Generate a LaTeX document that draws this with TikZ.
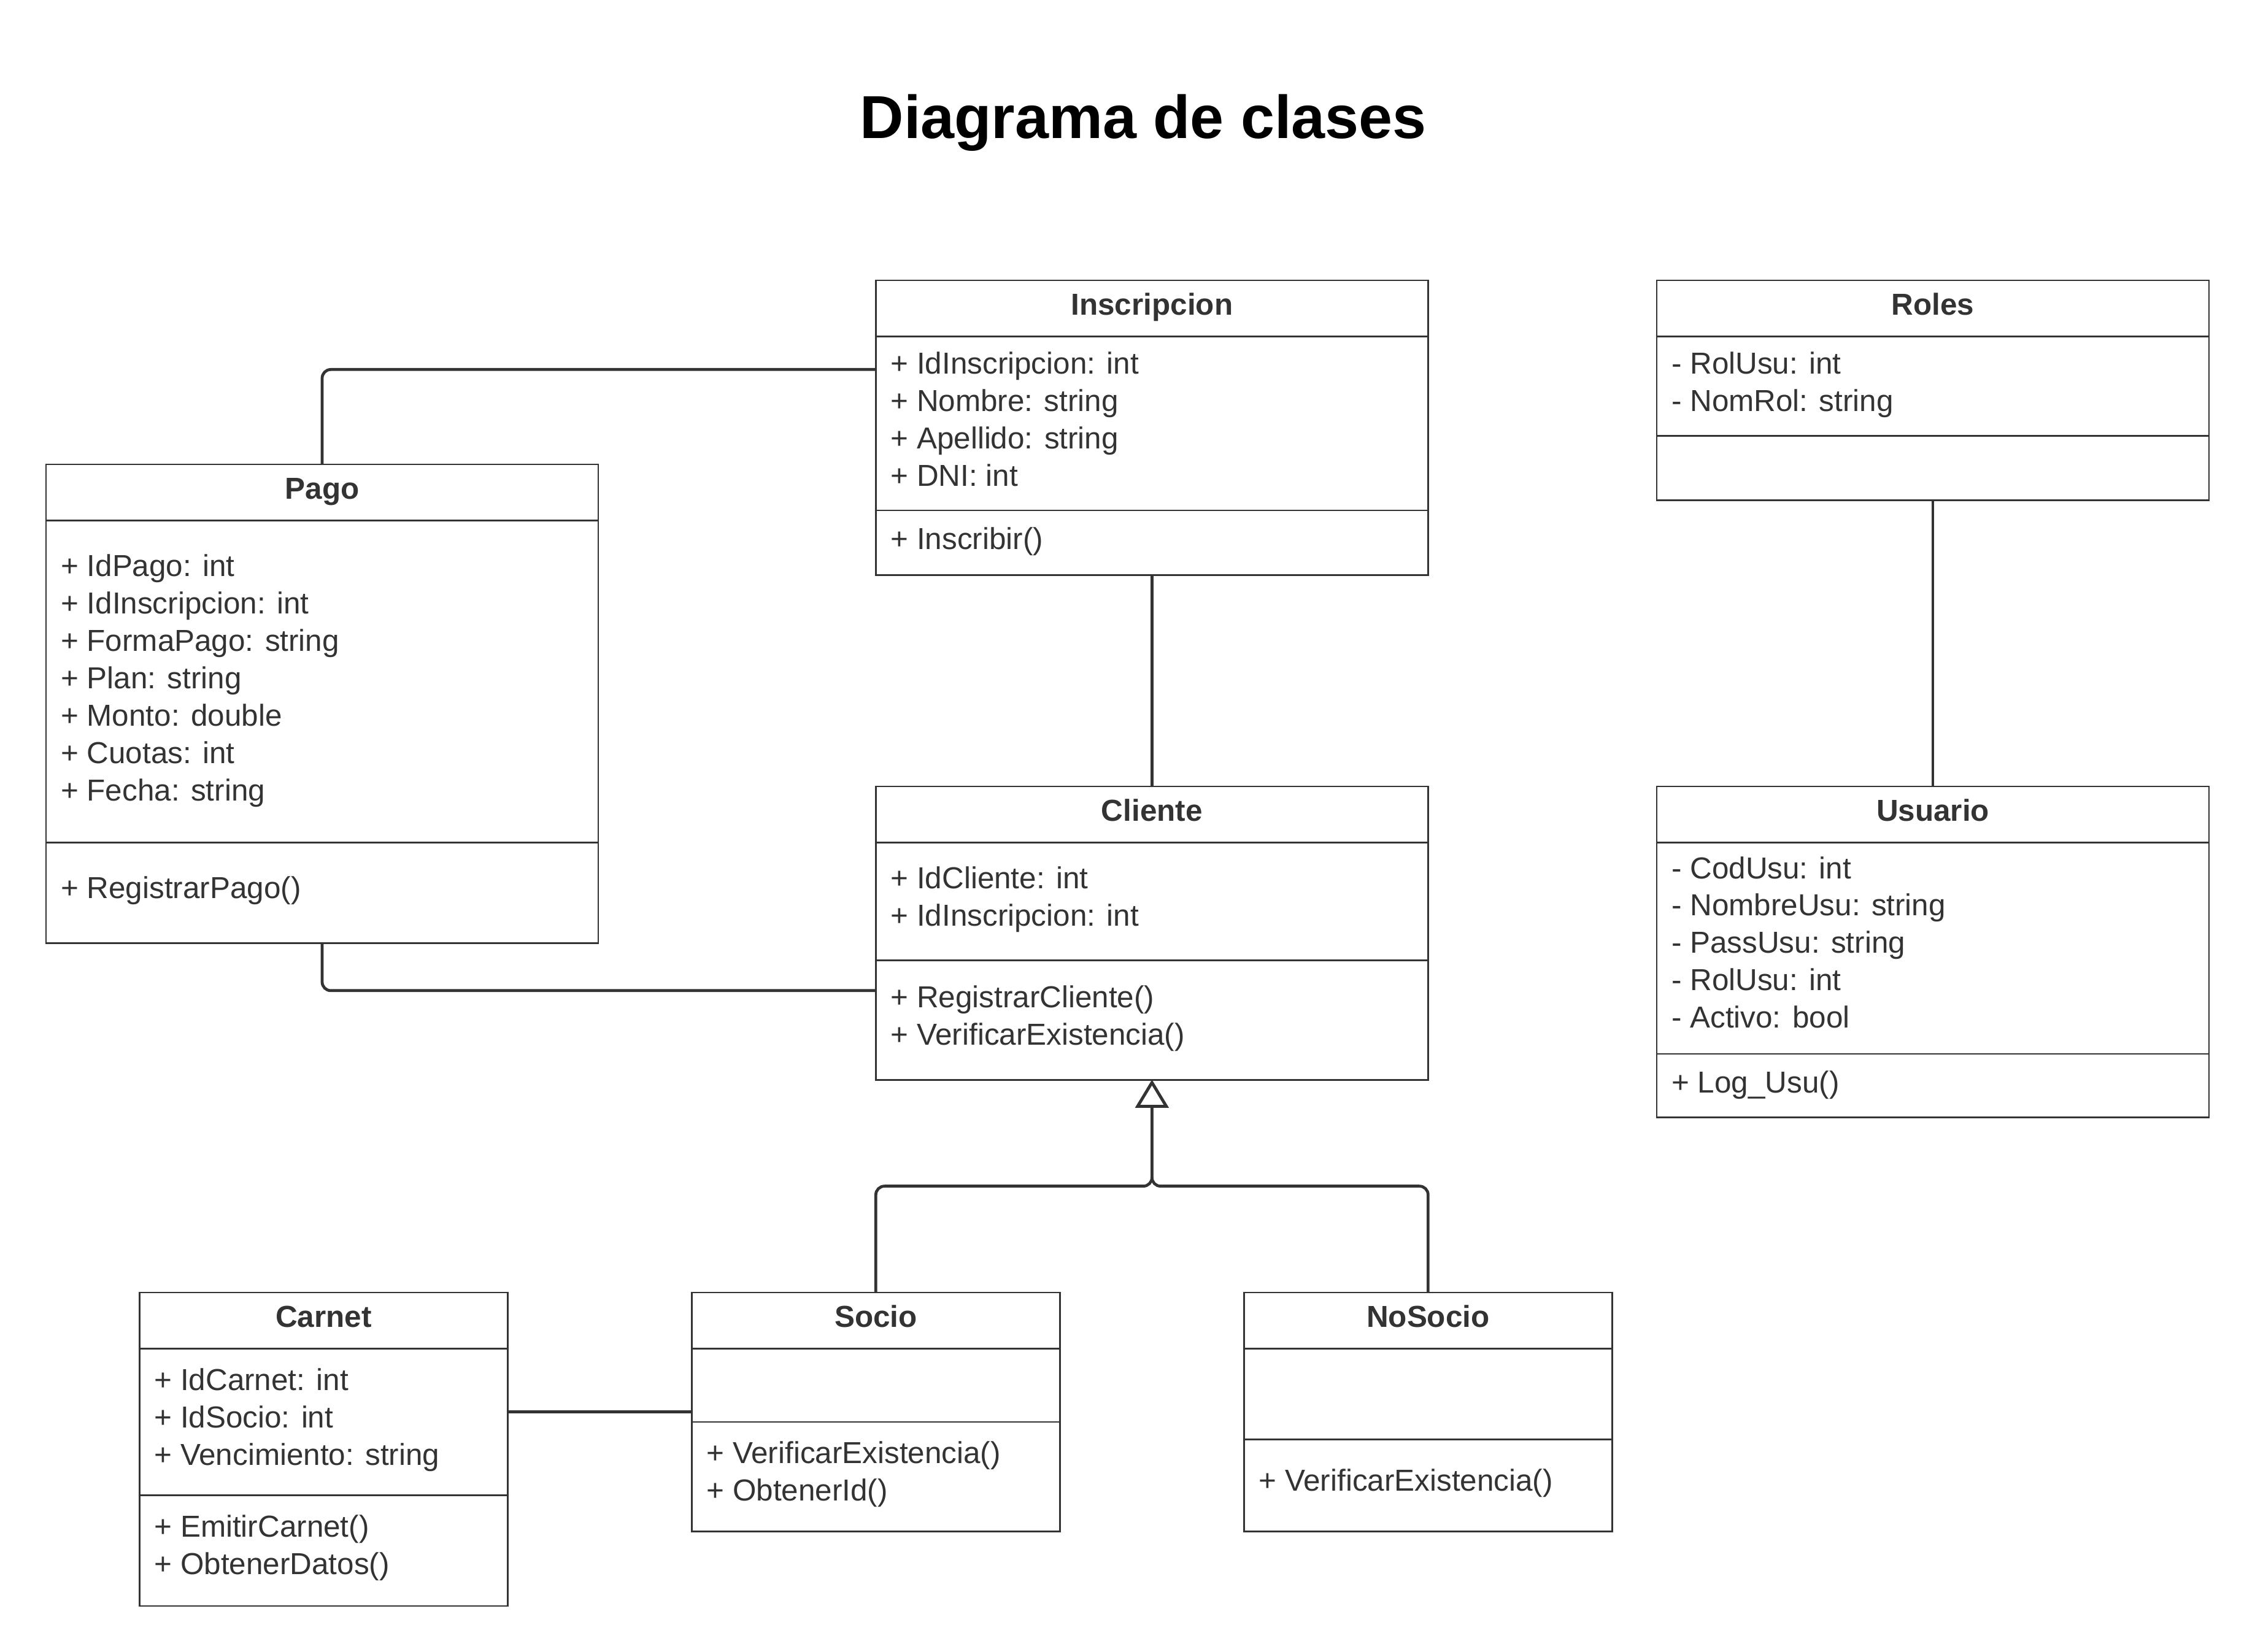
\documentclass[tikz,border=0pt]{standalone}
\usepackage{fontspec}
\setmainfont{Liberation Sans}
\usetikzlibrary{arrows.meta}
\definecolor{ink}{HTML}{333333}

\tikzset{
  x=0.02cm, y=-0.02cm,
  classbox/.style={draw=ink, line width=0.7pt, fill=white, inner sep=0pt, outer sep=0pt},
  classtitle/.style={anchor=base, inner sep=0pt, text=ink, font=\fontsize{12}{14}\selectfont\bfseries},
  member/.style={anchor=base west, inner sep=0pt, text=ink, font=\fontsize{12}{14}\selectfont},
  divider/.style={draw=ink, line width=0.7pt},
  conn/.style={draw=ink, line width=1.15pt, rounded corners=0.12cm},
  genarrow/.style={conn, -{Triangle[length=0.39cm, width=0.46cm, fill=white]}},
}

% \umlclass{name}{x1}{y1}{x2}{y2}{title}
\newcommand{\umlclass}[6]{%
  \node[classbox, minimum width={(#4-#2)*0.02cm}, minimum height={(#5-#3)*0.02cm}]
    (#1) at ({(#2+#4)/2},{(#3+#5)/2}) {};
  \node[classtitle] (#1-title) at ({(#2+#4)/2},{#3+24}) {#6};
}
% \umldivider{name}{y}
\newcommand{\umldivider}[2]{%
  \draw[divider] (#1.west |- 0,#2) -- (#1.east |- 0,#2);
}
% \umlmembers{name}{tag}{x}{first baseline}{list}
\newcommand{\umlmembers}[5]{%
  \foreach \t [count=\i] in {#5}
    \node[member] (#1-#2\i) at (#3,{#4+26*(\i-1)}) {\t};
}

\begin{document}
\begin{tikzpicture}
\useasboundingbox (0,0) rectangle (1568,1149);
\fill[white] (0,0) rectangle (1568,1149);

\node[anchor=base, inner sep=0pt, font=\fontsize{24}{28}\selectfont\bfseries] (heading) at (795,96) {Diagrama de clases};

% Inscripcion
\umlclass{ins}{609}{195}{993}{400}{Inscripcion}
\umldivider{ins}{234}
\umldivider{ins}{355}
\umlmembers{ins}{a}{619}{260}{{+ IdInscripcion: int},{+ Nombre: string},{+ Apellido: string},{+ DNI: int}}
\umlmembers{ins}{m}{619}{382}{{+ Inscribir()}}

% Roles
\umlclass{rol}{1152}{195}{1536}{348}{Roles}
\umldivider{rol}{234}
\umldivider{rol}{303}
\umlmembers{rol}{a}{1162}{260}{{- RolUsu: int},{- NomRol: string}}

% Pago
\umlclass{pago}{32}{323}{416}{656}{Pago}
\umldivider{pago}{362}
\umldivider{pago}{586}
\umlmembers{pago}{a}{42}{401}{{+ IdPago: int},{+ IdInscripcion: int},{+ FormaPago: string},{+ Plan: string},{+ Monto: double},{+ Cuotas: int},{+ Fecha: string}}
\umlmembers{pago}{m}{42}{625}{{+ RegistrarPago()}}

% Cliente
\umlclass{cli}{609}{547}{993}{751}{Cliente}
\umldivider{cli}{586}
\umldivider{cli}{668}
\umlmembers{cli}{a}{619}{618}{{+ IdCliente: int},{+ IdInscripcion: int}}
\umlmembers{cli}{m}{619}{701}{{+ RegistrarCliente()},{+ VerificarExistencia()}}

% Usuario
\umlclass{usu}{1152}{547}{1536}{777}{Usuario}
\umldivider{usu}{586}
\umldivider{usu}{733}
\umlmembers{usu}{a}{1162}{611}{{- CodUsu: int},{- NombreUsu: string},{- PassUsu: string},{- RolUsu: int},{- Activo: bool}}
\umlmembers{usu}{m}{1162}{760}{{+ Log\_Usu()}}

% Carnet
\umlclass{car}{97}{899}{353}{1117}{Carnet}
\umldivider{car}{938}
\umldivider{car}{1040}
\umlmembers{car}{a}{107}{967}{{+ IdCarnet: int},{+ IdSocio: int},{+ Vencimiento: string}}
\umlmembers{car}{m}{107}{1069}{{+ EmitirCarnet()},{+ ObtenerDatos()}}

% Socio
\umlclass{soc}{481}{899}{737}{1065}{Socio}
\umldivider{soc}{938}
\umldivider{soc}{989}
\umlmembers{soc}{m}{491}{1018}{{+ VerificarExistencia()},{+ ObtenerId()}}

% NoSocio
\umlclass{nos}{865}{899}{1121}{1065}{NoSocio}
\umldivider{nos}{938}
\umldivider{nos}{1001}
\umlmembers{nos}{m}{875}{1037}{{+ VerificarExistencia()}}

% associations
\draw[conn] (ins.west |- 0,257) -| (pago.north);
\draw[conn] (ins.south) -- (cli.north);
\draw[conn] (rol.south) -- (usu.north);
\draw[conn] (pago.south) |- (cli.west |- 0,689);
\draw[conn] (car.east |- 0,982) -- (soc.west |- 0,982);

% generalisation
\draw[genarrow] (soc.north) -- (609,825) -- (801,825) -- (cli.south);
\draw[genarrow] (nos.north) -- (993,825) -- (801,825) -- (cli.south);
\end{tikzpicture}
\end{document}
